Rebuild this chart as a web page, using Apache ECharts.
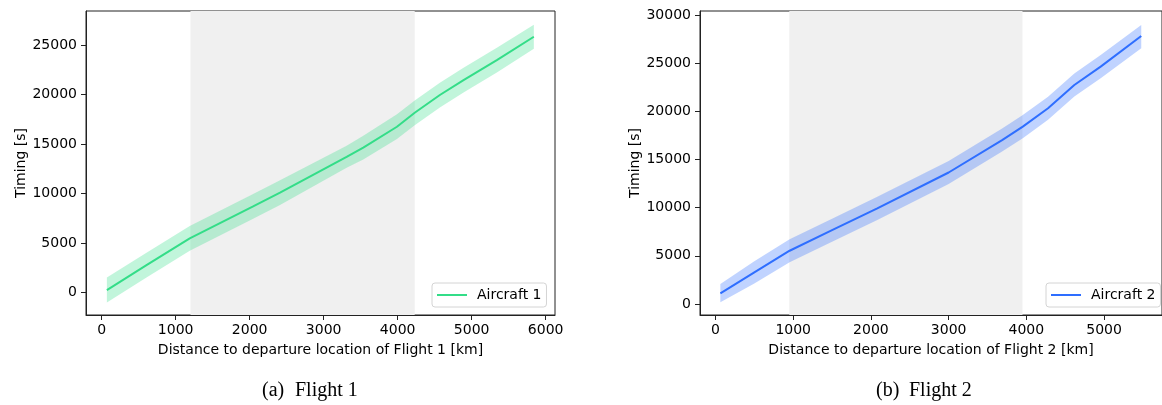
<!DOCTYPE html>
<html>
<head>
<meta charset="utf-8">
<script src="https://cdn.jsdelivr.net/npm/echarts@6/dist/echarts.min.js"></script>
<style>
html,body{margin:0;padding:0;background:#fff;}
#c{width:1162px;height:405px;}
</style>
</head>
<body>
<div id="c"></div>
<script>
// ---- Flight 1 (Aircraft 1) ----
const dist1  = [70, 600, 1190, 2040, 2410, 3310, 3535, 3990, 4230, 4570, 4890, 5340, 5840];
const time1  = [270, 2750, 5490, 8680, 10090, 13720, 14650, 16750, 18160, 19950, 21460, 23480, 25830];
const upper1 = [1540, 4000, 6740, 9930, 11340, 14820, 15850, 18000, 19410, 21200, 22710, 24730, 27050];
const lower1 = [-1000, 1500, 4240, 7430, 8840, 12620, 13450, 15500, 16910, 18700, 20210, 22230, 24610];
const shade1 = [1200, 4230];

// ---- Flight 2 (Aircraft 2) ----
const dist2  = [63, 500, 954, 1500, 2082, 3000, 3688, 3954, 4279, 4617, 4956, 5478];
const time2  = [1110, 3280, 5530, 7660, 9930, 13650, 17020, 18410, 20320, 22730, 24640, 27820];
const upper2 = [2080, 4430, 6730, 8860, 11130, 14850, 18220, 19610, 21520, 23930, 25840, 28960];
const lower2 = [180, 2130, 4330, 6460, 8730, 12450, 15820, 17210, 19120, 21530, 23440, 26540];
const shade2 = [950, 3950];

// ---- tick labels ----
const xTicks1 = [0, 1000, 2000, 3000, 4000, 5000, 6000];
const yTicks1 = [0, 5000, 10000, 15000, 20000, 25000];
const xTicks2 = [0, 1000, 2000, 3000, 4000, 5000];
const yTicks2 = [0, 5000, 10000, 15000, 20000, 25000, 30000];

const names = ['Aircraft 1', 'Aircraft 2'];
const xNames = ['Distance to departure location of Flight 1 [km]', 'Distance to departure location of Flight 2 [km]'];
const yName = 'Timing [s]';
const captions = [['(a)', 'Flight 1'], ['(b)', 'Flight 2']];

const FONT = 'DejaVu Sans';
const AX = '#222';

function zip(a, b) { return a.map((v, i) => [v, b[i]]); }

function xAxis(gi, min, max, ticks, name) {
  return {
    type: 'value', gridIndex: gi, min: min, max: max,
    name: name, nameLocation: 'middle', nameGap: 28,
    nameTextStyle: { fontFamily: FONT, fontSize: 14, color: '#000' },
    axisLine: { show: true, onZero: false, lineStyle: { color: AX, width: 1 } },
    axisTick: { show: true, length: 5, customValues: ticks, lineStyle: { color: AX, width: 1 } },
    axisLabel: { customValues: ticks, margin: 8, fontFamily: FONT, fontSize: 14, color: '#000', formatter: v => String(v) },
    splitLine: { show: false }
  };
}
function yAxis(gi, min, max, ticks, name) {
  return {
    type: 'value', gridIndex: gi, min: min, max: max,
    name: name, nameLocation: 'middle', nameGap: 57, nameRotate: 90,
    nameTextStyle: { fontFamily: FONT, fontSize: 14, color: '#000' },
    axisLine: { show: true, onZero: false, lineStyle: { color: AX, width: 1 } },
    axisTick: { show: true, length: 5, customValues: ticks, lineStyle: { color: AX, width: 1 } },
    axisLabel: { customValues: ticks, margin: 9, fontFamily: FONT, fontSize: 14, color: '#000', formatter: v => String(v) },
    splitLine: { show: false }
  };
}
function seriesFor(gi, dist, time, upper, lower, shade, name, color, bandColor) {
  return [
    {
      type: 'custom', xAxisIndex: gi, yAxisIndex: gi, silent: true, z: 2, clip: true,
      data: dist.map((d, i) => [d, lower[i], upper[i]]),
      encode: { x: 0, y: [1, 2] },
      renderItem: function (params, api) {
        if (params.dataIndex !== 0) return null;
        const pts = [];
        for (let i = 0; i < dist.length; i++) pts.push(api.coord([dist[i], upper[i]]));
        for (let i = dist.length - 1; i >= 0; i--) pts.push(api.coord([dist[i], lower[i]]));
        return { type: 'polygon', shape: { points: pts }, style: { fill: bandColor, stroke: null } };
      }
    },
    {
      type: 'line', name: name, xAxisIndex: gi, yAxisIndex: gi, data: zip(dist, time),
      symbol: 'none', showSymbol: false, silent: true,
      lineStyle: { color: color, width: 2 }, itemStyle: { color: color }, z: 3,
      markArea: {
        silent: true, z: 1,
        itemStyle: { color: '#f0f0f0', borderWidth: 0 },
        data: [[{ xAxis: shade[0] }, { xAxis: shade[1] }]]
      }
    }
  ];
}
function legend(name, left) {
  return {
    data: [{ name: name, icon: 'rect' }], left: left, top: 283, orient: 'horizontal',
    padding: [5, 5, 5, 5], itemWidth: 30, itemHeight: 2,
    backgroundColor: '#fff', borderColor: '#d4d4d4', borderWidth: 1, borderRadius: 3,
    textStyle: { fontFamily: FONT, fontSize: 14, color: '#000', padding: [0, 0, 0, 5] },
    selectedMode: false
  };
}
function caption(parts, x1, x2) {
  const st = { fontFamily: 'Liberation Serif', fontSize: 20, fill: '#000', verticalAlign: 'middle', align: 'left' };
  return [
    { type: 'text', x: x1, y: 391, style: Object.assign({ text: parts[0] }, st) },
    { type: 'text', x: x2, y: 391, style: Object.assign({ text: parts[1] }, st) }
  ];
}

const chart = echarts.init(document.getElementById('c'), null, { renderer: 'canvas' });
chart.setOption({
  animation: false,
  backgroundColor: '#fff',
  grid: [
    { left: 86, top: 11, width: 469, height: 304, show: true, borderColor: AX, borderWidth: 1, backgroundColor: 'transparent' },
    { left: 700, top: 11, width: 469, height: 304, show: true, borderColor: AX, borderWidth: 1, backgroundColor: 'transparent' }
  ],
  xAxis: [xAxis(0, -212, 6126, xTicks1, xNames[0]), xAxis(1, -199, 5745, xTicks2, xNames[1])],
  yAxis: [yAxis(0, -2250, 28430, yTicks1, yName), yAxis(1, -1142, 30415, yTicks2, yName)],
  legend: [legend(names[0], 432), legend(names[1], 1046)],
  series: [].concat(
    seriesFor(0, dist1, time1, upper1, lower1, shade1, names[0], '#33dd88', 'rgba(51,221,136,0.3)'),
    seriesFor(1, dist2, time2, upper2, lower2, shade2, names[1], '#2e6eff', 'rgba(46,110,255,0.3)')
  ),
  graphic: [].concat(caption(captions[0], 262, 295), caption(captions[1], 876, 909))
});
</script>
</body>
</html>
